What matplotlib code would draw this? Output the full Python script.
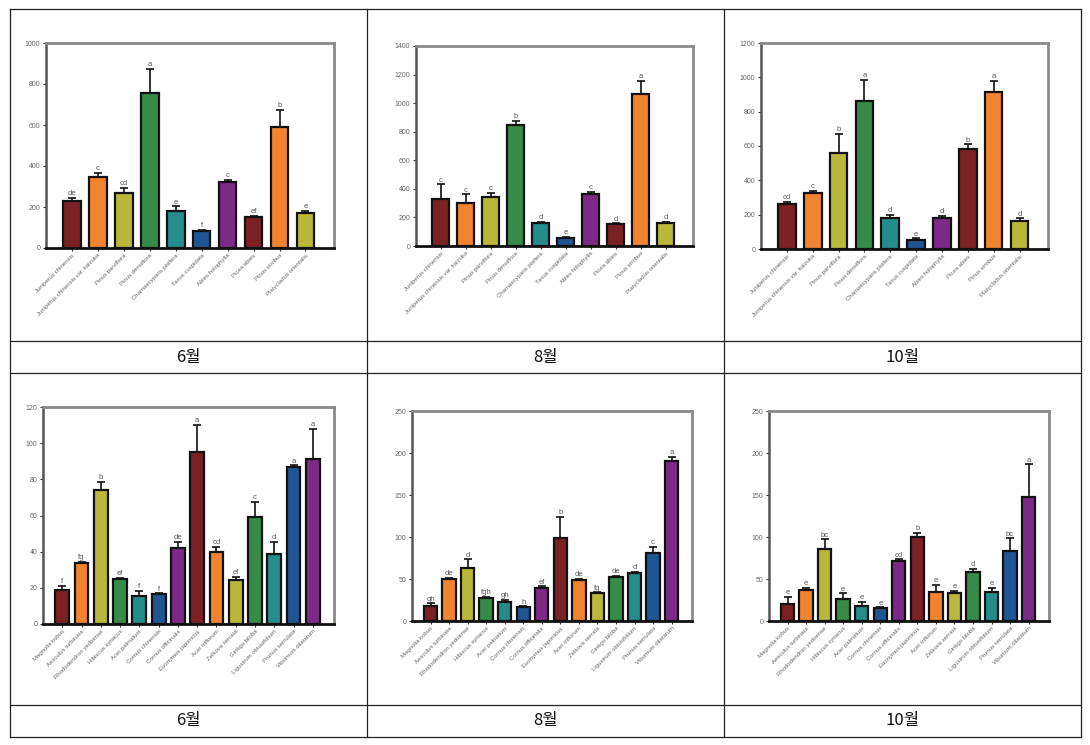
import numpy as np
import matplotlib
matplotlib.use("Agg")
import matplotlib.pyplot as plt
import matplotlib.transforms as mtransforms
from matplotlib.lines import Line2D

plt.rcParams['font.family'] = ['Liberation Sans', 'DejaVu Sans']

#================== data ===================
conifers = ['Juniperus chinensis', 'Juniperus chinensis var. kaizuka', 'Pinus parviflora',
            'Pinus densiflora', 'Chamaecyparis pisifera', 'Taxus cuspidata',
            'Abies holophylla', 'Picea abies', 'Pinus strobus', 'Platycladus orientalis']
broadleaf = ['Magnolia kobus', 'Aesculus turbinata', 'Rhododendron yedoense',
             'Hibiscus syriacus', 'Acer palmatum', 'Cornus chinensis', 'Cornus officinalis',
             'Euonymus japonicus', 'Acer triflorum', 'Zelkova serrata', 'Ginkgo biloba',
             'Ligustrum obtusifolium', 'Prunus serrulata', 'Viburnum dilatatum']

con_jun_mean = [227, 344, 267, 758, 182, 81, 324, 152, 592, 173]
con_jun_err = [19, 21, 25, 117, 21, 8, 8, 5, 81, 9]
con_jun_sig = ['de', 'c', 'cd', 'a', 'e', 'f', 'c', 'ef', 'b', 'e']

con_aug_mean = [326, 298, 345, 846, 158, 58, 361, 151, 1062, 158]
con_aug_err = [105, 63, 28, 28, 12, 7, 19, 7, 93, 12]
con_aug_sig = ['c', 'c', 'c', 'b', 'd', 'e', 'c', 'd', 'a', 'd']

con_oct_mean = [264, 324, 562, 860, 182, 52, 178, 581, 913, 165]
con_oct_err = [11, 15, 107, 126, 16, 10, 16, 29, 66, 13]
con_oct_sig = ['cd', 'c', 'b', 'a', 'd', 'e', 'd', 'b', 'a', 'd']

bro_jun_mean = [19, 34, 74, 25, 15.7, 16.6, 42.3, 95, 40, 24.6, 59.4, 38.6, 86.6, 91.4]
bro_jun_err = [2, 0.5, 4.5, 0.7, 2.8, 0.4, 3.3, 15, 2.8, 1.6, 8, 7, 1.1, 16.6]
bro_jun_sig = ['f', 'fg', 'b', 'ef', 'f', 'f', 'de', 'a', 'cd', 'ef', 'c', 'd', 'a', 'a']

bro_aug_mean = [18.3, 49.6, 63.5, 27, 23, 16.3, 39.3, 99.2, 48.8, 33, 52, 57.5, 80.6, 190.5]
bro_aug_err = [2.7, 2, 9.9, 2, 2, 1.2, 2, 24.8, 1.2, 1, 1.6, 1.2, 7.9, 5.1]
bro_aug_sig = ['gh', 'de', 'd', 'fgh', 'gh', 'h', 'ef', 'b', 'de', 'fg', 'de', 'd', 'c', 'a']

bro_oct_mean = [20.2, 37, 85.7, 25.8, 17.9, 15, 71.8, 100.4, 35, 33, 58.3, 35, 83, 148]
bro_oct_err = [8.8, 2.7, 11.5, 7.2, 5.1, 1.3, 1.6, 4.6, 7.9, 3, 4, 4.7, 15.4, 38.5]
bro_oct_sig = ['e', 'e', 'bc', 'e', 'e', 'e', 'cd', 'b', 'e', 'e', 'd', 'e', 'bc', 'a']

months = ['6월', '8월', '10월']

bar_colors = ['#7B2124', '#F28430', '#B9B83B', '#358B47', '#248C8A', '#1F5592', '#7D2A87']

#================== figure ===================
W, H = 1090, 745
fig = plt.figure(figsize=(W / 100, H / 100), dpi=100)
fig.patch.set_facecolor('white')


def px_axes(x0, y0, x1, y1):
    # pixel box (top-left origin) -> figure fraction
    return fig.add_axes([x0 / W, 1 - y1 / H, (x1 - x0) / W, (y1 - y0) / H])


def bar_panel(box, names, mean, err, sig, ymax, ystep, width):
    ax = px_axes(*box)
    n = len(names)
    x = np.arange(1, n + 1)
    cols = [bar_colors[i % len(bar_colors)] for i in range(n)]
    ax.bar(x, mean, width=width, color=cols, edgecolor='#111111', linewidth=1.6, zorder=2)
    ax.errorbar(x, mean, yerr=[np.zeros(n), err], fmt='none', ecolor='#111111',
                elinewidth=1.2, capsize=3, capthick=1.2, zorder=3)
    for xi, m, e, s in zip(x, mean, err, sig):
        ax.annotate(s, (xi, m + e), xytext=(0, 0.5), textcoords='offset points',
                    ha='center', va='bottom', fontsize=5.5, color='#555555')
    ax.set_xlim(0, n + 1.1)
    ax.set_ylim(0, ymax)
    ax.set_yticks(np.arange(0, ymax + 1, ystep))
    ax.set_xticks(x)
    ax.set_xticklabels(names, rotation=45, ha='right', rotation_mode='anchor',
                       fontsize=4.3, color='#666666')
    offset = mtransforms.ScaledTranslation(-8 / 100, -1 / 100, fig.dpi_scale_trans)
    for lab in ax.get_xticklabels():
        lab.set_transform(lab.get_transform() + offset)
    ax.tick_params(axis='y', labelsize=5, labelcolor='#666666', length=2.5,
                   width=0.8, color='#333333', pad=1.5)
    ax.tick_params(axis='x', length=2.5, width=0.8, color='#333333', pad=1)
    ax.spines['top'].set_color('#8a8a8a')
    ax.spines['right'].set_color('#8a8a8a')
    ax.spines['top'].set_linewidth(2)
    ax.spines['right'].set_linewidth(2)
    ax.spines['left'].set_color('#555555')
    ax.spines['left'].set_linewidth(1.8)
    ax.spines['bottom'].set_color('#111111')
    ax.spines['bottom'].set_linewidth(2)
    return ax


bar_panel((46, 43, 334, 248), conifers, con_jun_mean, con_jun_err, con_jun_sig, 1000, 200, 0.68)
bar_panel((416, 46, 693, 246), conifers, con_aug_mean, con_aug_err, con_aug_sig, 1400, 200, 0.68)
bar_panel((761, 43, 1048, 249), conifers, con_oct_mean, con_oct_err, con_oct_sig, 1200, 200, 0.68)
bar_panel((43, 407, 334, 624), broadleaf, bro_jun_mean, bro_jun_err, bro_jun_sig, 120, 20, 0.72)
bar_panel((412, 411, 692, 621), broadleaf, bro_aug_mean, bro_aug_err, bro_aug_sig, 250, 50, 0.72)
bar_panel((769, 411, 1049, 621), broadleaf, bro_oct_mean, bro_oct_err, bro_oct_sig, 250, 50, 0.72)

#================== table grid ===================
col_x = [10, 367, 724, 1081]
row_y = [9, 341, 373, 705, 737]


def fx(x):
    return x / W


def fy(y):
    return 1 - y / H


for y in row_y:
    fig.add_artist(Line2D([fx(col_x[0]), fx(col_x[-1])], [fy(y), fy(y)], color='#222222', lw=0.9))
for x in col_x:
    fig.add_artist(Line2D([fx(x), fx(x)], [fy(row_y[0]), fy(row_y[-1])], color='#222222', lw=0.9))

for r in (1, 3):
    yc = (row_y[r] + row_y[r + 1]) / 2
    for c, m in enumerate(months):
        xc = (col_x[c] + col_x[c + 1]) / 2
        fig.text(fx(xc), fy(yc), m, ha='center', va='center', fontsize=12,
                 family=['Noto Sans CJK KR', 'DejaVu Sans'], color='#111111')

fig.savefig('out.png', dpi=100, facecolor='white')
